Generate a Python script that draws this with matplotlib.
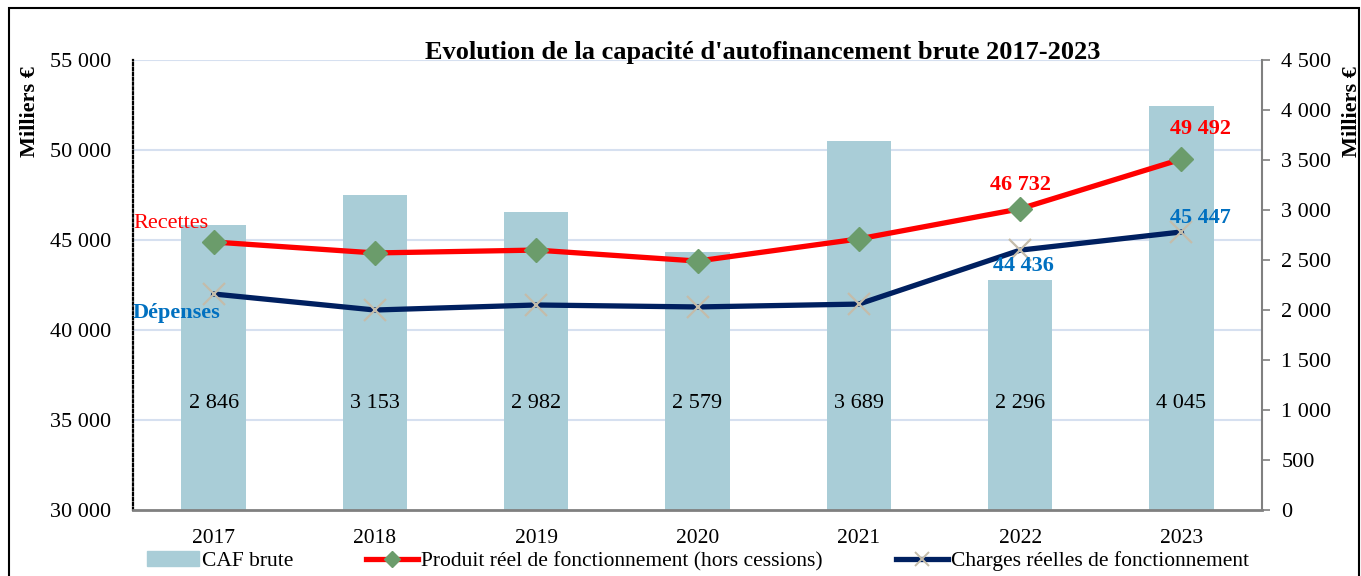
import matplotlib.pyplot as plt
from matplotlib.patches import Rectangle
from matplotlib.lines import Line2D
import numpy as np

# 数据
years = ["2017", "2018", "2019", "2020", "2021", "2022", "2023"]
caf_brute = [2846, 3153, 2982, 2579, 3689, 2296, 4045]
recettes = [44890, 44280, 44440, 43830, 45060, 46732, 49492]
depenses = [42000, 41110, 41390, 41280, 41440, 44436, 45447]

BAR_COLOR = "#a9cdd7"
RED = "#ff0000"
NAVY = "#002060"
BLUE_TXT = "#0070c0"
GRID = "#d6e0f0"


def fmt(v):
    return f"{v:,}".replace(",", " ")


def main():
    plt.rcParams["font.family"] = ["Liberation Serif", "DejaVu Serif"]

    fig = plt.figure(figsize=(13.61, 5.76), dpi=100)
    ax = fig.add_axes([133 / 1361, 1 - 510 / 576, (1262 - 133) / 1361, 450 / 576])
    ax2 = ax.twinx()

    x = np.arange(len(years))

    # 柱子放在右轴
    ax2.bar(x, caf_brute, width=0.4, color=BAR_COLOR, zorder=1)
    for xi, v in zip(x, caf_brute):
        ax2.text(xi, 1070, fmt(v), ha="center", va="center", fontsize=16, color="black")
    ax2.set_ylim(0, 4500)
    ax2.set_yticks(range(0, 4501, 500))
    ax2.set_yticklabels([fmt(t) for t in range(0, 4501, 500)], fontsize=16)
    ax2.tick_params(axis="y", length=6, width=1.2, color="#808080", pad=8)

    # 线放在左轴, 左轴画在上层
    ax.set_zorder(ax2.get_zorder() + 1)
    ax.patch.set_visible(False)
    ax.set_ylim(30000, 55000)
    ax.set_xlim(-0.5, len(years) - 0.5)
    yt = range(30000, 55001, 5000)
    ax.set_yticks(yt)
    ax.set_yticklabels([fmt(t) for t in yt], fontsize=16)
    ax.tick_params(axis="y", length=0, pad=16)
    ax.set_xticks(x)
    ax.set_xticklabels(years, fontsize=15.5)
    ax.tick_params(axis="x", length=0, pad=14)

    for t in yt[1:]:
        ax2.axhline((t - 30000) / 25000 * 4500, color=GRID, lw=1.5, zorder=0)

    ax.plot(x, recettes, color=RED, lw=3.8, marker="D", markersize=12,
            markerfacecolor="#6b9c6b", markeredgecolor="#6b9c6b", zorder=3)
    ax.plot(x, depenses, color=NAVY, lw=3.8, marker="x", markersize=16,
            markeredgewidth=1.6, markeredgecolor="#c4bcaa", zorder=3)

    # 数据标签
    ax.text(5, recettes[5] + 1300, fmt(recettes[5]), color=RED, fontsize=16,
            fontweight="bold", ha="center", va="center")
    ax.text(6.12, recettes[6] + 1700, fmt(recettes[6]), color=RED, fontsize=16,
            fontweight="bold", ha="center", va="center")
    ax.text(5.02, depenses[5] - 900, fmt(depenses[5]), color=BLUE_TXT, fontsize=16,
            fontweight="bold", ha="center", va="center")
    ax.text(6.12, depenses[6] + 800, fmt(depenses[6]), color=BLUE_TXT, fontsize=16,
            fontweight="bold", ha="center", va="center")

    ax.text(-0.5, 45890, "Recettes", color=RED, fontsize=16, ha="left", va="center")
    ax.text(-0.5, 40940, "Dépenses", color=BLUE_TXT, fontsize=16, fontweight="bold",
            ha="left", va="center")

    # 轴线样式
    for a in (ax, ax2):
        a.spines["top"].set_visible(False)
    ax.spines["left"].set_linestyle((0, (1, 1.2)))
    ax.spines["left"].set_linewidth(1.6)
    ax.spines["left"].set_color("black")
    ax.spines["right"].set_visible(False)
    ax2.spines["left"].set_visible(False)
    ax2.spines["right"].set_color("#808080")
    ax2.spines["right"].set_linewidth(1.5)
    ax2.spines["bottom"].set_visible(False)
    ax.spines["bottom"].set_color("#808080")
    ax.spines["bottom"].set_linewidth(2)

    ax.set_ylabel("Milliers €", fontsize=16, fontweight="bold")
    ax.yaxis.set_label_coords(-0.082, 0.885)
    ax2.set_ylabel("Milliers €", fontsize=16, fontweight="bold", rotation=90)
    ax2.yaxis.set_label_coords(1.071, 0.885)

    fig.text(763 / 1361, 1 - 53 / 576,
             "Evolution de la capacité d'autofinancement brute 2017-2023",
             ha="center", va="center", fontsize=19, fontweight="bold")

    # 图例
    handles = [
        Rectangle((0, 0), 1, 1, color=BAR_COLOR),
        Line2D([], [], color=RED, lw=3.8, marker="D", markersize=8,
               markerfacecolor="#6b9c6b", markeredgecolor="#6b9c6b"),
        Line2D([], [], color=NAVY, lw=3.8, marker="x", markersize=10,
               markeredgewidth=1.4, markeredgecolor="#c4bcaa"),
    ]
    labels = ["CAF brute", "Produit réel de fonctionnement (hors cessions)",
              "Charges réelles de fonctionnement"]
    fig.legend(handles, labels, loc="center", bbox_to_anchor=(698 / 1361, 1 - 561 / 576),
               ncol=3, frameon=False, fontsize=15.5, handlelength=2.4,
               columnspacing=3.4, handletextpad=0.15, borderpad=0)

    # 外框
    fig.patches.append(Rectangle((9 / 1361, -0.05), 1350 / 1361, 1.05 - 8 / 576,
                                 transform=fig.transFigure, fill=False,
                                 edgecolor="black", lw=1.5))

    fig.savefig("out.png", dpi=100)
    plt.close(fig)


if __name__ == "__main__":
    main()
